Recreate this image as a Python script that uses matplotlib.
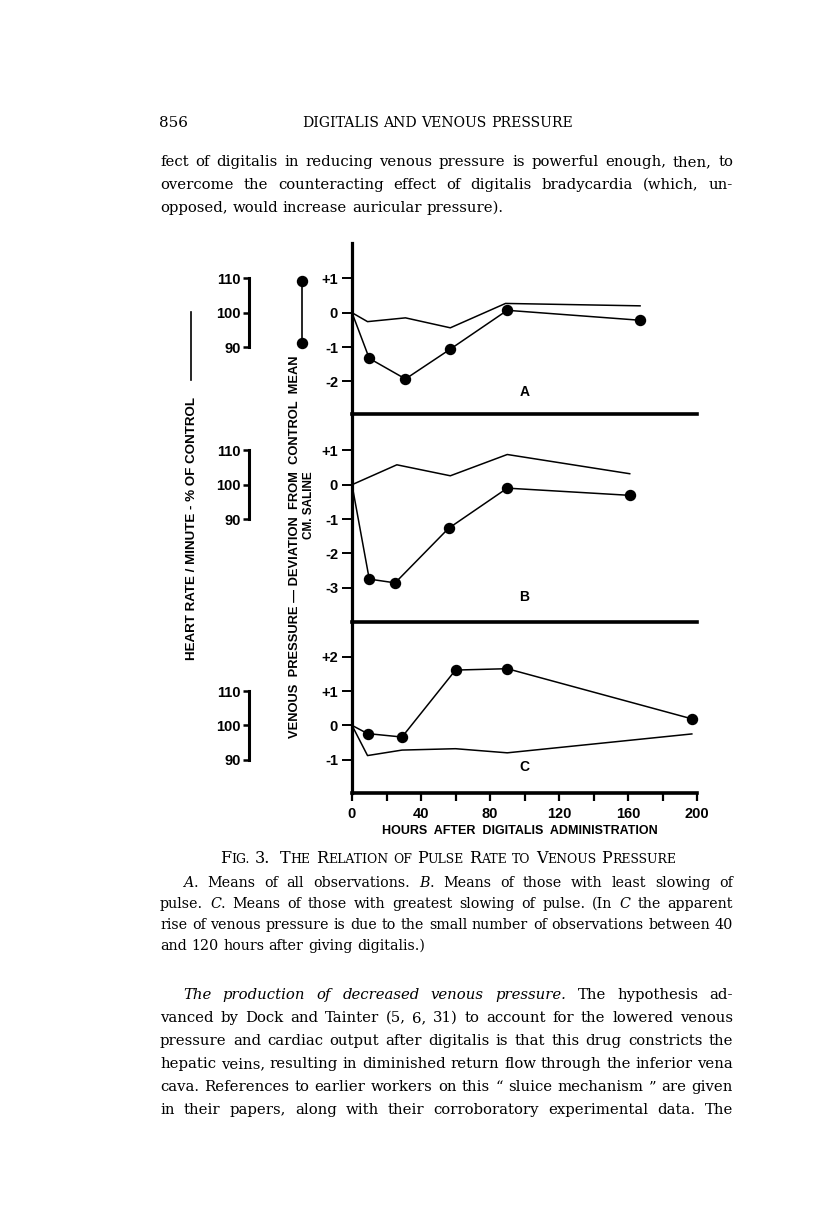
import matplotlib
matplotlib.use("Agg")
import matplotlib.pyplot as plt
from matplotlib.lines import Line2D

# ---------------- data ----------------
hours_a = [0, 10, 31, 57, 90, 167]
venous_a = [0, -1.33, -1.93, -1.06, 0.07, -0.22]
pulse_hours_a = [0, 9, 31, 57, 89, 167]
pulse_a = [100, 97.4, 98.5, 95.6, 102.7, 102.0]

hours_b = [0, 10, 25, 56, 90, 161]
venous_b = [0, -2.75, -2.86, -1.27, -0.10, -0.31]
pulse_hours_b = [0, 26, 57, 90, 161]
pulse_b = [100, 105.8, 102.6, 108.8, 103.2]

hours_c = [0, 9, 29, 60, 90, 197]
venous_c = [0, -0.24, -0.34, 1.61, 1.65, 0.19]
pulse_hours_c = [0, 9, 29, 60, 90, 197]
pulse_c = [100, 91.2, 92.8, 93.2, 92.0, 97.5]

panel_letters = ["A", "B", "C"]
x_major = [0, 40, 80, 120, 160, 200]
x_minor = [20, 60, 100, 140, 180]
y_ticks_a = [1, 0, -1, -2]
y_ticks_b = [1, 0, -1, -2, -3]
y_ticks_c = [2, 1, 0, -1]
hr_ticks = [90, 100, 110]

x_label = "HOURS  AFTER  DIGITALIS  ADMINISTRATION"
hr_label = "HEART RATE / MINUTE - % OF CONTROL"
vp_label = "VENOUS  PRESSURE \u2014 DEVIATION  FROM  CONTROL  MEAN"
vp_unit = "CM. SALINE"

# ---------------- figure ----------------
W, H = 816, 1227
fig = plt.figure(figsize=(W / 100, H / 100), dpi=100)
fig.patch.set_facecolor("white")
renderer = fig.canvas.get_renderer()

SANS = ["Liberation Sans Narrow", "Liberation Sans", "DejaVu Sans"]
SERIF = ["DejaVu Serif", "Liberation Serif"]


def fx(x):
    return x / W


def fy(y):
    return 1 - y / H


def add_panel(top, bottom, ylim):
    left, right = 352, 697
    ax = fig.add_axes([fx(left), fy(bottom), (right - left) / W, (bottom - top) / H])
    ax.set_xlim(0, 200)
    ax.set_ylim(*ylim)
    ax.patch.set_alpha(0)
    for s in ("top", "right"):
        ax.spines[s].set_visible(False)
    ax.spines["left"].set_linewidth(2.3)
    ax.spines["bottom"].set_linewidth(2.6)
    return ax


ax_a = add_panel(243, 414, (-2.95, 2.03))
ax_b = add_panel(414, 622, (-4.0, 2.06))
ax_c = add_panel(622, 793, (-1.97, 3.01))

panels = [
    (ax_a, hours_a, venous_a, pulse_hours_a, pulse_a, y_ticks_a, -2.31),
    (ax_b, hours_b, venous_b, pulse_hours_b, pulse_b, y_ticks_b, -3.27),
    (ax_c, hours_c, venous_c, pulse_hours_c, pulse_c, y_ticks_c, -1.22),
]


def hr_to_v(h):
    return (h - 100) / 10.0


def v_to_hr(v):
    return 100 + 10.0 * v


def sign_label(v):
    return "+%d" % v if v > 0 else ("%d" % v)


tick_font = dict(family=SANS, weight="bold", size=10.5)

for i, (ax, hx, vy, phx, py, yt, letter_y) in enumerate(panels):
    ax.plot(hx, vy, color="black", lw=1.1, marker="o", ms=7.2,
            markevery=list(range(1, len(hx))), clip_on=False, zorder=3)
    ax.plot(phx, [hr_to_v(p) for p in py], color="black", lw=1.1, clip_on=False, zorder=3)
    ax.set_yticks(yt)
    ax.set_yticklabels([sign_label(v) for v in yt], fontdict=tick_font)
    ax.tick_params(axis="y", direction="out", length=7, width=1.4, pad=3)
    ax.text(100, letter_y, panel_letters[i], ha="center", va="center",
            fontfamily=SANS, fontweight="bold", fontsize=10)
    if i < 2:
        ax.set_xticks([])
    else:
        ax.set_xticks(x_major)
        ax.set_xticks(x_minor, minor=True)
        ax.set_xticklabels([str(v) for v in x_major], fontdict=tick_font)
        ax.tick_params(axis="x", which="both", direction="out", length=6, width=1.6, pad=4)

    sec = ax.secondary_yaxis(-0.2986, functions=(v_to_hr, hr_to_v))
    sec.set_yticks(hr_ticks)
    sec.set_yticklabels([str(h) for h in hr_ticks], fontdict=tick_font)
    sec.spines["left"].set_bounds(90, 110)
    sec.spines["left"].set_linewidth(2.2)
    sec.tick_params(axis="y", direction="out", length=4, width=1.8, pad=2)

# legend symbols
fig.add_artist(Line2D([fx(191), fx(191)], [fy(312), fy(380)], color="black", lw=1.2))
fig.add_artist(Line2D([fx(302), fx(302)], [fy(281), fy(343)], color="black", lw=1.2,
                      marker="o", ms=7.2))


def fitted_text(x, y, s, length, rotation=0, base=10, **kw):
    t = fig.text(fx(x), fy(y), s, rotation=rotation, ha="center", va="center",
                 fontsize=base, **kw)
    bb = t.get_window_extent(renderer)
    cur = bb.height if rotation else bb.width
    t.set_fontsize(base * length / cur)
    return t


lab_kw = dict(fontfamily=SANS, fontweight="bold")
fitted_text(192, 528, hr_label, 262, rotation=90, **lab_kw)
fitted_text(295, 547, vp_label, 380, rotation=90, **lab_kw)
fitted_text(309, 505, vp_unit, 68, rotation=90, **lab_kw)
fitted_text(520, 831, x_label, 274, **lab_kw)

# ---------------- page text ----------------

def R(s, **kw):
    return (s, kw)


def I(s, **kw):
    d = dict(style="italic")
    d.update(kw)
    return (s, d)


def measure(s, size, props):
    t = fig.text(0, 0, s, fontsize=size, fontfamily=SERIF, **props)
    w = t.get_window_extent(renderer).width
    t.remove()
    return w


def space_width(size):
    return measure("a a", size, {}) - measure("aa", size, {})


def split_props(p, size):
    sz = p.get("size", size)
    return sz, {k: v for k, v in p.items() if k != "size"}


def word_width(word, size):
    tot = 0
    for s, p in word:
        sz, props = split_props(p, size)
        tot += measure(s, sz, props)
    return tot


def natural_width(words, size):
    return sum(word_width(w, size) for w in words) + space_width(size) * (len(words) - 1)


def draw_line(words, x0, y, size, x1=None, center=None):
    widths = [word_width(w, size) for w in words]
    total = sum(widths)
    if x1 is not None and len(words) > 1:
        gap = (x1 - x0 - total) / (len(words) - 1)
    else:
        gap = space_width(size)
    if center is not None:
        x0 = center - (total + gap * (len(words) - 1)) / 2
    x = x0
    for w, ww in zip(words, widths):
        xr = x
        for s, p in w:
            sz, props = split_props(p, size)
            fig.text(fx(xr), fy(y), s, fontsize=sz, fontfamily=SERIF,
                     va="baseline", ha="left", **props)
            xr += measure(s, sz, props)
        x += ww + gap


def plain(line):
    return [[R(w)] for w in line.split()]


L, RGT = 160, 733

body_lines = [
    (plain("fect of digitalis in reducing venous pressure is powerful enough, then, to"), L),
    (plain("overcome the counteracting effect of digitalis bradycardia (which, un-"), L),
    ([[I("The")], [I("production")], [I("of")], [I("decreased")], [I("venous")],
      [I("pressure.")], [R("The")], [R("hypothesis")], [R("ad-")]], 183),
    (plain("vanced by Dock and Tainter (5, 6, 31) to account for the lowered venous"), L),
    (plain("pressure and cardiac output after digitalis is that this drug constricts the"), L),
    (plain("hepatic veins, resulting in diminished return flow through the inferior vena"), L),
    (plain("cava. References to earlier workers on this \u201c sluice mechanism \u201d are given"), L),
    (plain("in their papers, along with their corroboratory experimental data. The"), L),
]
cap_lines = [
    ([[I("A"), R(".")], [R("Means")], [R("of")], [R("all")], [R("observations.")],
      [I("B"), R(".")], [R("Means")], [R("of")], [R("those")], [R("with")], [R("least")],
      [R("slowing")], [R("of")]], 183),
    ([[R("pulse.")], [I("C"), R(".")], [R("Means")], [R("of")], [R("those")], [R("with")],
      [R("greatest")], [R("slowing")], [R("of")], [R("pulse.")], [R("(In")], [I("C")],
      [R("the")], [R("apparent")]], L),
    (plain("rise of venous pressure is due to the small number of observations between 40"), L),
]


def fit_size(lines, base=10.0, slack=1.0):
    return min(base * (RGT - x0) / (natural_width(w, base) * slack) for w, x0 in lines)


body = fit_size(body_lines)
cap = fit_size(cap_lines)

# running head
fig.text(fx(159), fy(127), "856", fontsize=body * 1.02, fontfamily=SERIF, va="baseline")
head_sz = 10 * 269 / natural_width(plain("DIGITALIS AND VENOUS PRESSURE"), 10)
draw_line(plain("DIGITALIS AND VENOUS PRESSURE"), 302, 127, head_sz)

draw_line(body_lines[0][0], L, 166, body, RGT)
draw_line(body_lines[1][0], L, 189, body, RGT)
draw_line(plain("opposed, would increase auricular pressure)."), L, 212, body)

# caption title in small caps
big = body
small = big * 0.78


def sc(word, first_big=True):
    if first_big:
        return [R(word[0], size=big), R(word[1:].upper(), size=small)]
    return [R(word.upper(), size=small)]


def make_title():
    return [sc("Fig."), [R("3.", size=big)], [R("", size=small)], sc("The"), sc("Relation"),
            sc("of", False), sc("Pulse"), sc("Rate"), sc("to", False), sc("Venous"),
            sc("Pressure")]


scale = 457 / natural_width(make_title(), big)
big, small = big * scale, small * scale
draw_line(make_title(), 0, 863, big, center=448)

cap_y = [887, 908, 929]
for (w, x0), y in zip(cap_lines, cap_y):
    draw_line(w, x0, y, cap, RGT)
draw_line(plain("and 120 hours after giving digitalis.)"), L, 950, cap)

para_y = [999, 1022, 1045, 1068, 1091, 1114]
for (w, x0), y in zip(body_lines[2:], para_y):
    draw_line(w, x0, y, body, RGT)

fig.savefig("out.png", dpi=100, facecolor="white")
